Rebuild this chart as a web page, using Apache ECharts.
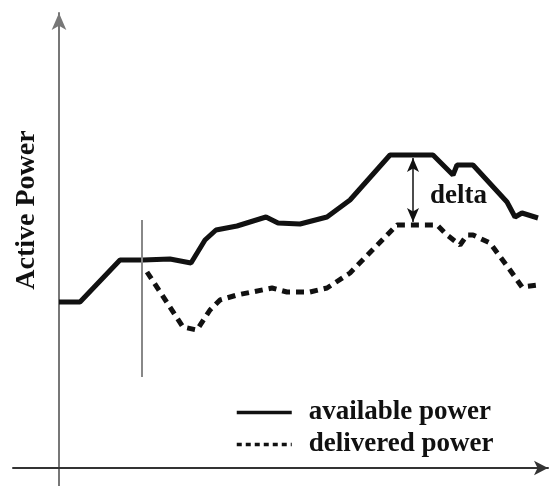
<!DOCTYPE html>
<html>
<head>
<meta charset="utf-8">
<script src="https://cdn.jsdelivr.net/npm/echarts@6/dist/echarts.min.js"></script>
<style>
html, body { margin: 0; padding: 0; background: #fff; }
#main { width: 550px; height: 486px; }
</style>
</head>
<body>
<div id="main"></div>
<script>
// 可用功率 (x, y)
var availableX = [0, 21, 61, 84, 111, 132, 146, 157, 178, 207, 219, 241, 268, 291, 331, 374, 394, 398, 414, 448, 456, 463, 479];
var availableY = [166, 166, 208, 208, 209, 205, 228, 238, 242, 251, 245, 244, 251, 268, 313, 313, 293, 303, 303, 266, 251, 255, 250];
// 实际输出功率
var deliveredX = [88, 124, 138, 151, 161, 178, 213, 228, 251, 268, 291, 338, 378, 388, 401, 408, 414, 431, 451, 463, 479];
var deliveredY = [196, 141, 138, 158, 168, 173, 180, 176, 176, 180, 195, 243, 243, 233, 223, 233, 233, 225, 198, 181, 183];
// 事件时刻竖线
var eventX = [83, 83];
var eventY = [248, 91];
// delta 箭头
var deltaX = 354;
var deltaTop = 310;
var deltaBottom = 246;

function pairs(xs, ys) {
    var out = [];
    for (var i = 0; i < xs.length; i++) out.push([xs[i], ys[i]]);
    return out;
}

var font = 'Liberation Serif';
var myChart = echarts.init(document.getElementById('main'));
var option = {
    animation: false,
    grid: { left: 13, right: 2, top: 13, bottom: 0 },
    xAxis: {
        type: 'value', min: -46, max: 489,
        splitLine: { show: false }, axisTick: { show: false }, axisLabel: { show: false },
        axisLine: { onZero: true, symbol: ['none', 'arrow'], symbolSize: [11, 14],
            lineStyle: { color: '#333', width: 2 } }
    },
    yAxis: {
        type: 'value', min: -18, max: 455,
        splitLine: { show: false }, axisTick: { show: false }, axisLabel: { show: false },
        axisLine: { onZero: true, symbol: ['none', 'arrow'], symbolSize: [11, 17],
            lineStyle: { color: '#777', width: 2 } }
    },
    legend: {
        orient: 'vertical', left: 230, top: 394, itemWidth: 55, itemHeight: 10, itemGap: 5,
        itemStyle: { opacity: 0 },
        textStyle: { fontFamily: font, fontWeight: 'bold', fontSize: 27, color: '#111', padding: [0, 0, 0, 12] },
        data: [
            { name: 'available power', lineStyle: { width: 3.5 } },
            { name: 'delivered power', lineStyle: { width: 3.5, type: [5, 4] } }
        ]
    },
    graphic: [
        { type: 'text', x: 27, y: 210, rotation: Math.PI / 2,
          style: { text: 'Active Power', font: 'bold 28px ' + font, fill: '#111', textAlign: 'center', textVerticalAlign: 'middle' } },
        { type: 'text', x: 430, y: 196,
          style: { text: 'delta', font: 'bold 27px ' + font, fill: '#111', textAlign: 'left', textVerticalAlign: 'middle' } }
    ],
    series: [
        {
            name: 'available power', type: 'line', showSymbol: false, symbol: 'none',
            lineStyle: { color: '#111', width: 5 },
            itemStyle: { color: '#111' },
            data: pairs(availableX, availableY),
            markLine: {
                silent: true, symbol: ['arrow', 'arrow'], symbolSize: [9, 14],
                label: { show: false },
                lineStyle: { color: '#111', width: 1.5, type: 'solid' },
                data: [[{ coord: [deltaX, deltaTop] }, { coord: [deltaX, deltaBottom] }]]
            }
        },
        {
            name: 'delivered power', type: 'line', showSymbol: false, symbol: 'none',
            lineStyle: { color: '#111', width: 5, type: [8, 6] },
            itemStyle: { color: '#111' },
            data: pairs(deliveredX, deliveredY)
        },
        {
            name: 'event', type: 'line', showSymbol: false, symbol: 'none',
            lineStyle: { color: '#888', width: 2 },
            data: pairs(eventX, eventY)
        }
    ]
};
myChart.setOption(option);
</script>
</body>
</html>
